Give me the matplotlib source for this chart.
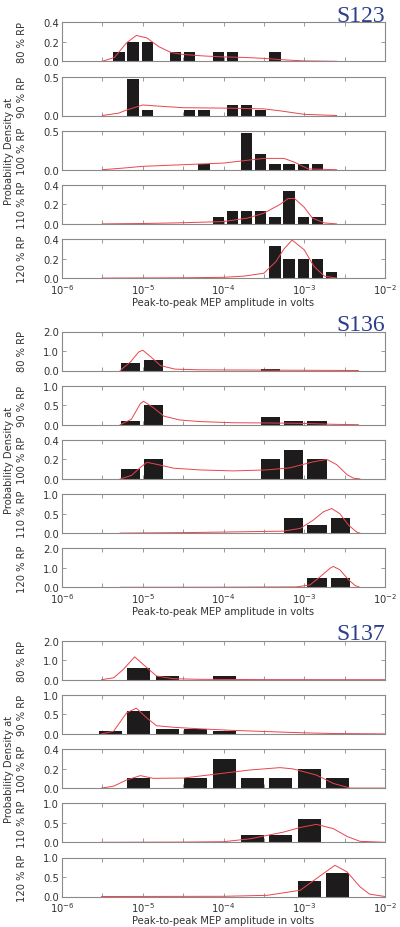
import matplotlib
matplotlib.use("Agg")
import matplotlib.pyplot as plt
import numpy as np
from matplotlib.ticker import FixedLocator, FuncFormatter

# ---------------- data (x values are log10 of volts) ----------------
subjects = ["S123", "S136", "S137"]
levels = ["80 % RP", "90 % RP", "100 % RP", "110 % RP", "120 % RP"]

S123_bins = [-5.294, -5.119, -4.943, -4.768, -4.592, -4.417, -4.242, -4.066,
             -3.891, -3.715, -3.540, -3.364, -3.189, -3.013, -2.838, -2.663]
S123_80 = [0.1, 0.2, 0.2, 0, 0.1, 0.1, 0, 0.1, 0.1, 0, 0, 0.1, 0, 0, 0, 0]
S123_90 = [0, 0.467, 0.067, 0, 0, 0.067, 0.067, 0, 0.133, 0.133, 0.067, 0, 0, 0, 0, 0]
S123_100 = [0, 0, 0, 0, 0, 0, 0.067, 0, 0, 0.467, 0.2, 0.067, 0.067, 0.067, 0.067, 0]
S123_110 = [0, 0, 0, 0, 0, 0, 0, 0.067, 0.133, 0.133, 0.133, 0.067, 0.333, 0.067, 0.067, 0]
S123_120 = [0, 0, 0, 0, 0, 0, 0, 0, 0, 0, 0, 0.333, 0.2, 0.2, 0.2, 0.067]

S136_bins = [-5.154, -4.865, -4.576, -4.287, -3.998, -3.709, -3.420, -3.131, -2.842, -2.553]
S136_80 = [0.4, 0.52, 0, 0, 0, 0, 0.07, 0, 0, 0]
S136_90 = [0.1, 0.5, 0, 0, 0, 0, 0.2, 0.1, 0.1, 0]
S136_100 = [0.1, 0.2, 0, 0, 0, 0, 0.2, 0.3, 0.2, 0]
S136_110 = [0, 0, 0, 0, 0, 0, 0, 0.4, 0.2, 0.4]
S136_120 = [0, 0, 0, 0, 0, 0, 0, 0, 0.5, 0.5]

S137_bins = [-5.399, -5.047, -4.696, -4.344, -3.992, -3.641, -3.289, -2.937, -2.586]
S137_80 = [0, 0.6, 0.2, 0, 0.2, 0, 0, 0, 0]
S137_90 = [0.067, 0.6, 0.133, 0.133, 0.067, 0, 0, 0, 0]
S137_100 = [0, 0.1, 0, 0.1, 0.3, 0.1, 0.1, 0.2, 0.1]
S137_110 = [0, 0, 0, 0, 0, 0.2, 0.2, 0.6, 0]
S137_120 = [0, 0, 0, 0, 0, 0, 0, 0.4, 0.6]

# density curves (log10 volts, density)
S123_80_kx = [-5.5, -5.35, -5.2, -5.08, -4.95, -4.8, -4.65, -4.5, -4.25, -4.0, -3.75, -3.5, -3.25, -3.0, -2.6]
S123_80_ky = [0.0, 0.04, 0.19, 0.265, 0.24, 0.15, 0.09, 0.07, 0.055, 0.045, 0.04, 0.03, 0.015, 0.004, 0.0]
S123_90_kx = [-5.5, -5.3, -5.2, -5.0, -4.8, -4.5, -4.0, -3.5, -3.3, -3.0, -2.6]
S123_90_ky = [0.0, 0.03, 0.07, 0.135, 0.12, 0.1, 0.095, 0.085, 0.06, 0.015, 0.0]
S123_100_kx = [-5.5, -5.25, -5.0, -4.5, -4.0, -3.75, -3.5, -3.25, -3.12, -2.95, -2.6]
S123_100_ky = [0.0, 0.02, 0.043, 0.064, 0.085, 0.115, 0.145, 0.145, 0.095, 0.01, 0.0]
S123_110_kx = [-5.5, -5.0, -4.5, -4.0, -3.7, -3.5, -3.3, -3.2, -3.12, -3.0, -2.9, -2.75, -2.6]
S123_110_ky = [0.0, 0.004, 0.012, 0.024, 0.06, 0.11, 0.2, 0.26, 0.26, 0.17, 0.06, 0.01, 0.0]
S123_120_kx = [-5.5, -4.5, -4.0, -3.75, -3.5, -3.35, -3.25, -3.15, -3.0, -2.88, -2.75, -2.6]
S123_120_ky = [0.0, 0.003, 0.008, 0.02, 0.05, 0.17, 0.3, 0.39, 0.29, 0.12, 0.02, 0.0]

S136_80_kx = [-5.28, -5.15, -5.05, -5.0, -4.9, -4.78, -4.6, -4.3, -3.5, -2.9, -2.33]
S136_80_ky = [0.0, 0.45, 0.95, 1.04, 0.7, 0.25, 0.07, 0.035, 0.02, 0.01, 0.0]
S136_90_kx = [-5.28, -5.14, -5.03, -4.99, -4.87, -4.74, -4.54, -4.29, -3.88, -3.47, -3.05, -2.64, -2.33]
S136_90_ky = [0.0, 0.14, 0.54, 0.6, 0.44, 0.22, 0.12, 0.08, 0.05, 0.045, 0.035, 0.01, 0.0]
S136_100_kx = [-5.28, -5.14, -5.04, -4.95, -4.83, -4.62, -4.29, -3.88, -3.47, -3.18, -2.89, -2.72, -2.6, -2.47, -2.39, -2.31]
S136_100_ky = [0.0, 0.035, 0.11, 0.17, 0.15, 0.11, 0.092, 0.082, 0.092, 0.113, 0.175, 0.2, 0.147, 0.044, 0.007, 0.0]
S136_110_kx = [-5.28, -4.5, -3.9, -3.26, -3.05, -2.89, -2.76, -2.66, -2.56, -2.45, -2.35, -2.31]
S136_110_ky = [0.0, 0.012, 0.03, 0.05, 0.12, 0.33, 0.55, 0.63, 0.5, 0.2, 0.025, 0.0]
S136_120_kx = [-5.28, -4.0, -3.1, -2.93, -2.8, -2.68, -2.64, -2.56, -2.45, -2.37, -2.31]
S136_120_ky = [0.0, 0.005, 0.02, 0.12, 0.55, 0.98, 1.07, 0.9, 0.38, 0.09, 0.0]

S137_80_kx = [-5.51, -5.36, -5.24, -5.1, -4.95, -4.83, -4.62, -4.3, -3.5, -2.0]
S137_80_ky = [0.0, 0.1, 0.53, 1.17, 0.62, 0.19, 0.05, 0.02, 0.005, 0.0]
S137_90_kx = [-5.51, -5.36, -5.2, -5.08, -4.95, -4.83, -4.62, -4.29, -3.88, -3.47, -3.05, -2.64, -2.0]
S137_90_ky = [0.0, 0.07, 0.54, 0.66, 0.41, 0.21, 0.17, 0.13, 0.09, 0.06, 0.03, 0.01, 0.0]
S137_100_kx = [-5.51, -5.36, -5.2, -5.03, -4.87, -4.5, -4.13, -3.67, -3.3, -3.14, -2.85, -2.64, -2.43, -2.0]
S137_100_ky = [0.0, 0.02, 0.083, 0.128, 0.1, 0.103, 0.14, 0.186, 0.21, 0.197, 0.134, 0.048, 0.0, 0.0]
S137_110_kx = [-5.51, -4.5, -4.0, -3.67, -3.26, -3.05, -2.85, -2.64, -2.47, -2.31, -2.0]
S137_110_ky = [0.0, 0.005, 0.015, 0.09, 0.26, 0.38, 0.46, 0.35, 0.15, 0.025, 0.0]
S137_120_kx = [-5.51, -4.0, -3.46, -3.05, -2.85, -2.62, -2.47, -2.31, -2.19, -2.0]
S137_120_ky = [0.0, 0.005, 0.03, 0.16, 0.46, 0.8, 0.63, 0.25, 0.06, 0.0]

yticks_all = {
    "S123": [[0, 0.2, 0.4], [0, 0.5], [0, 0.5], [0, 0.2, 0.4], [0, 0.2, 0.4]],
    "S136": [[0, 1, 2], [0, 0.5, 1], [0, 0.2, 0.4], [0, 0.5, 1], [0, 1, 2]],
    "S137": [[0, 1, 2], [0, 0.5, 1], [0, 0.2, 0.4], [0, 0.5, 1], [0, 0.5, 1]],
}

data = {
    "S123": (S123_bins, [S123_80, S123_90, S123_100, S123_110, S123_120],
             [(S123_80_kx, S123_80_ky), (S123_90_kx, S123_90_ky), (S123_100_kx, S123_100_ky),
              (S123_110_kx, S123_110_ky), (S123_120_kx, S123_120_ky)]),
    "S136": (S136_bins, [S136_80, S136_90, S136_100, S136_110, S136_120],
             [(S136_80_kx, S136_80_ky), (S136_90_kx, S136_90_ky), (S136_100_kx, S136_100_ky),
              (S136_110_kx, S136_110_ky), (S136_120_kx, S136_120_ky)]),
    "S137": (S137_bins, [S137_80, S137_90, S137_100, S137_110, S137_120],
             [(S137_80_kx, S137_80_ky), (S137_90_kx, S137_90_ky), (S137_100_kx, S137_100_ky),
              (S137_110_kx, S137_110_ky), (S137_120_kx, S137_120_ky)]),
}
bar_width_log = {"S123": 0.14, "S136": 0.24, "S137": 0.285}

# ---------------- styling / layout ----------------
plt.rcParams["font.family"] = ["DejaVu Sans"]
W, H = 400, 928
fig = plt.figure(figsize=(W / 100, H / 100), dpi=100)
fig.patch.set_facecolor("white")

LEFT, RIGHT = 62, 385
PANEL_H = 39.0
PANEL_STEP = 54.2
GROUP_STEP = 309.2
FIRST_TOP = 23.3

TXT = "#333333"
SPINE = "#8a8a8a"
BAR = "#1e1b1c"
RED = "#e8454f"
FS = 7.2

xticks = [10 ** (-6 + 0.5 * k) for k in range(9)]


def xfmt(v, pos):
    e = np.log10(v)
    if abs(e - round(e)) < 1e-6:
        return r"$10^{%d}$" % int(round(e))
    return ""


for g, subj in enumerate(subjects):
    bins, heights, curves = data[subj]
    w = bar_width_log[subj]
    for p in range(5):
        top = FIRST_TOP + g * GROUP_STEP + p * PANEL_STEP
        ax = fig.add_axes([LEFT / W, 1 - (top + PANEL_H) / H, (RIGHT - LEFT) / W, PANEL_H / H])
        ax.set_xscale("log")
        c = np.array(bins)
        hh = np.array(heights[p], dtype=float)
        m = hh > 0
        lefts = 10 ** (c[m] - w / 2)
        rights = 10 ** (c[m] + w / 2)
        ax.bar(lefts, hh[m], width=rights - lefts, align="edge", color=BAR, edgecolor="none", zorder=2)
        kx, ky = curves[p]
        ax.plot(10 ** np.array(kx), ky, color=RED, lw=0.7, zorder=3)
        yt = yticks_all[subj][p]
        ax.set_xlim(1e-6, 1e-2)
        ax.set_ylim(0, yt[-1])
        ax.set_yticks(yt)
        ax.yaxis.set_major_formatter(FuncFormatter(lambda v, pos: "%.1f" % v))
        ax.xaxis.set_major_locator(FixedLocator(xticks))
        ax.xaxis.set_minor_locator(FixedLocator([]))
        ax.xaxis.set_major_formatter(FuncFormatter(xfmt))
        ax.tick_params(axis="both", which="both", direction="in", top=True, right=True,
                       length=3, width=0.6, color=SPINE, labelsize=FS, labelcolor=TXT, pad=2)
        ax.tick_params(axis="x", pad=3)
        if p < 4:
            ax.tick_params(axis="x", labelbottom=False)
        else:
            ax.set_xlabel("Peak-to-peak MEP amplitude in volts", fontsize=FS, color=TXT, labelpad=0.5)
        for s in ax.spines.values():
            s.set_color(SPINE)
            s.set_linewidth(0.8)
        ax.set_ylabel(levels[p], fontsize=FS, color=TXT, labelpad=3)
        ax.yaxis.set_label_coords(-0.108, 0.5)
        if p == 2:
            ax.text(-0.165, 0.5, "Probability Density at", transform=ax.transAxes, rotation=90,
                    ha="center", va="center", fontsize=FS, color=TXT)
        if p == 0:
            ax.text(1.0, 1.04, subj, transform=ax.transAxes, ha="right", va="baseline",
                    fontsize=17, color="#2c3e8c", family=["Liberation Serif", "DejaVu Serif"])

fig.savefig("out.png", dpi=100, facecolor="white")
